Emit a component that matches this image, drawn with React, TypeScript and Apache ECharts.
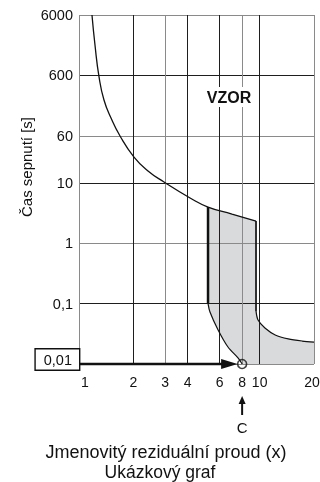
import React, { useEffect, useRef } from 'react';
import * as echarts from 'echarts';

// ---- axis ticks and labels ----
const xTicks = [1, 2, 3, 4, 6, 8, 10, 20];
const xTickLabels = ['1', '2', '3', '4', '6', '8', '10', '20'];
const yTicks = [0.01, 0.1, 1, 10, 60, 600, 6000];
const yTickLabels = ['0,01', '0,1', '1', '10', '60', '600', '6000'];

// ---- tripping characteristic ----
const mainCurveX = [1.18, 1.226, 1.291, 1.375, 1.504, 1.687, 2.016, 2.41, 2.956, 4.12, 5.18, 7.03, 9.55];
const mainCurveY = [6000, 1910, 565, 235, 118, 59.6, 26.7, 15.7, 10.3, 5.6, 3.97, 3.04, 2.33];
const leftEdgeX = [5.18, 5.18];
const leftEdgeY = [3.97, 0.1];
const lowerLeftX = [5.18, 5.31, 5.89, 6.68, 7.59, 8];
const lowerLeftY = [0.1, 0.0726, 0.0366, 0.0191, 0.0126, 0.01];
const rightEdgeX = [9.55, 9.55];
const rightEdgeY = [2.33, 0.075];
const lowerRightX = [9.55, 9.8, 10.7, 12.2, 14.4, 17.2, 20];
const lowerRightY = [0.075, 0.0534, 0.0394, 0.0302, 0.026, 0.024, 0.0231];

// ---- marked point C ----
const pointX = [8];
const pointY = [0.01];
const arrowFromX = 1;
const arrowToX = 6.2;

const L = (v: number) => Math.log10(v);
const toPts = (xs: number[], ys: number[]) => xs.map((x, i) => [L(x), L(ys[i])]);

const FONT = '"Liberation Sans", Arial, Helvetica, sans-serif';
const INK = '#111111';
const GRAY = '#8a8a8a';
const DARK = '#1e1e1e';
const xGridColors = [GRAY, DARK, GRAY, DARK, DARK, GRAY, DARK, GRAY];
const yGridColors = [GRAY, DARK, GRAY, DARK, GRAY, DARK, GRAY];

const nearest = (arr: number[], v: number) => {
  let best = 0;
  arr.forEach((a, i) => {
    if (Math.abs(a - v) < Math.abs(arr[best] - v)) best = i;
  });
  return best;
};

export default function App() {
  const ref = useRef<HTMLDivElement>(null);
  useEffect(() => {
    if (!ref.current) return;
    const chart = echarts.init(ref.current, null, { renderer: 'svg' });

    const xLog = xTicks.map(L);
    const yLog = yTicks.map(L);

    // shaded polygon built from the boundary arrays
    const shadeStart = mainCurveX.findIndex((x) => x >= leftEdgeX[0]);
    const shadePts: number[][] = [
      ...toPts(mainCurveX.slice(shadeStart), mainCurveY.slice(shadeStart)),
      ...toPts(lowerRightX, lowerRightY),
      [L(lowerRightX[lowerRightX.length - 1]), L(yTicks[0])],
      ...toPts(lowerLeftX, lowerLeftY).reverse(),
    ];

    const lineSeries = (xs: number[], ys: number[], width: number, smooth: number) => ({
      type: 'line',
      data: toPts(xs, ys),
      smooth,
      showSymbol: false,
      clip: false,
      silent: true,
      lineStyle: { color: INK, width },
      z: 3,
    });

    const option: any = {
      animation: false,
      grid: { left: 79, right: 6, top: 15, bottom: 118, containLabel: false, outerBoundsMode: 'none' },
      xAxis: {
        type: 'value',
        min: L(xTicks[0]),
        max: L(xTicks[xTicks.length - 1]),
        axisLine: { show: false },
        axisTick: { show: false, customValues: xLog },
        splitLine: { show: true, lineStyle: { color: xGridColors, width: 1 } },
        axisLabel: {
          customValues: xLog,
          showMinLabel: true,
          showMaxLabel: true,
          margin: 11,
          color: INK,
          fontSize: 14,
          fontFamily: FONT,
          formatter: (v: number) => {
            const i = nearest(xLog, v);
            if (i === 0) return `{first|${xTickLabels[i]}}`;
            if (i === xLog.length - 1) return `{last|${xTickLabels[i]}}`;
            return xTickLabels[i];
          },
          rich: {
            first: { fontSize: 14, fontFamily: FONT, color: INK, padding: [0, 0, 0, 12] },
            last: { fontSize: 14, fontFamily: FONT, color: INK, padding: [0, 4, 0, 0] },
          },
        },
      },
      yAxis: {
        type: 'value',
        min: L(yTicks[0]),
        max: L(yTicks[yTicks.length - 1]),
        axisLine: { show: false },
        axisTick: { show: false, customValues: yLog },
        splitLine: { show: true, lineStyle: { color: yGridColors, width: 1 } },
        axisLabel: {
          customValues: yLog,
          showMinLabel: true,
          showMaxLabel: true,
          margin: 0,
          color: INK,
          fontSize: 14.5,
          fontFamily: FONT,
          formatter: (v: number) => {
            const i = nearest(yLog, v);
            if (i === 0) return `{box|${yTickLabels[i]}}\n{gap| }`;
            return `{n|${yTickLabels[i]}}`;
          },
          rich: {
            n: { fontSize: 14.5, fontFamily: FONT, color: INK, padding: [0, 6, 0, 0] },
            box: {
              fontSize: 14.5,
              fontFamily: FONT,
              color: INK,
              lineHeight: 16,
              borderColor: INK,
              borderWidth: 1.4,
              backgroundColor: '#fff',
              padding: [3, 7, 2, 8],
            },
            gap: { fontSize: 1, lineHeight: 9 },
          },
        },
      },
      series: [
        {
          type: 'custom',
          silent: true,
          z: -1,
          data: [0],
          renderItem: (_p: any, api: any) => ({
            type: 'polygon',
            shape: { points: shadePts.map((p) => api.coord(p)) },
            style: { fill: '#d9dadc', stroke: 'none' },
          }),
        },
        lineSeries(mainCurveX, mainCurveY, 1.3, 0.5),
        lineSeries(leftEdgeX, leftEdgeY, 2.5, 0),
        lineSeries(lowerLeftX, lowerLeftY, 1.2, 0.3),
        lineSeries(rightEdgeX, rightEdgeY, 1.7, 0),
        lineSeries(lowerRightX, lowerRightY, 1.2, 0.3),
        {
          type: 'scatter',
          data: toPts(pointX, pointY),
          symbol: 'circle',
          symbolSize: 9,
          clip: false,
          silent: true,
          z: 5,
          itemStyle: { color: 'rgba(0,0,0,0)', borderColor: INK, borderWidth: 1.6 },
          markLine: {
            silent: true,
            symbol: ['none', 'none'],
            label: { show: false },
            lineStyle: { color: INK, width: 2.4, type: 'solid' },
            data: [[{ coord: [L(arrowFromX), L(pointY[0])] }, { coord: [L(arrowToX), L(pointY[0])] }]],
          },
        },
      ],
    };
    chart.setOption(option);

    const [cx, cy] = chart.convertToPixel({ gridIndex: 0 }, [L(pointX[0]), L(pointY[0])]) as number[];
    const [bx] = chart.convertToPixel({ gridIndex: 0 }, [L(arrowToX), L(pointY[0])]) as number[];
    const tipX = cx - 4.5;
    chart.setOption({
      graphic: [
        {
          type: 'polygon',
          shape: { points: [[tipX, cy], [bx - 1, cy - 5], [bx - 1, cy + 5]] },
          style: { fill: INK },
          z: 6,
        },
        {
          type: 'text',
          x: 229,
          y: 97,
          style: {
            text: 'VZOR',
            font: `bold 16px ${FONT}`,
            fill: INK,
            align: 'center',
            verticalAlign: 'middle',
            backgroundColor: '#fff',
            padding: [2, 3],
          },
          z: 10,
        },
        {
          type: 'text',
          x: 26,
          y: 167,
          rotation: Math.PI / 2,
          style: {
            text: 'Čas sepnutí [s]',
            font: `15px ${FONT}`,
            fill: INK,
            align: 'center',
            verticalAlign: 'middle',
          },
        },
        {
          type: 'polygon',
          shape: { points: [[cx, cy + 32], [cx - 3.5, cy + 40], [cx + 3.5, cy + 40]] },
          style: { fill: INK },
        },
        {
          type: 'line',
          shape: { x1: cx, y1: cy + 39, x2: cx, y2: cy + 51 },
          style: { stroke: INK, lineWidth: 2 },
        },
        {
          type: 'text',
          x: cx,
          y: cy + 63,
          style: { text: 'C', font: `15px ${FONT}`, fill: INK, align: 'center', verticalAlign: 'middle' },
        },
        {
          type: 'text',
          x: 166,
          y: 452,
          style: {
            text: 'Jmenovitý reziduální proud (x)',
            font: `18px ${FONT}`,
            fill: INK,
            align: 'center',
            verticalAlign: 'middle',
          },
        },
        {
          type: 'text',
          x: 160,
          y: 472,
          style: { text: 'Ukázkový graf', font: `17.5px ${FONT}`, fill: INK, align: 'center', verticalAlign: 'middle' },
        },
      ],
    });

    return () => chart.dispose();
  }, []);

  return <div ref={ref} style={{ position: 'fixed', left: 0, top: 0, width: 320, height: 482 }} />;
}
